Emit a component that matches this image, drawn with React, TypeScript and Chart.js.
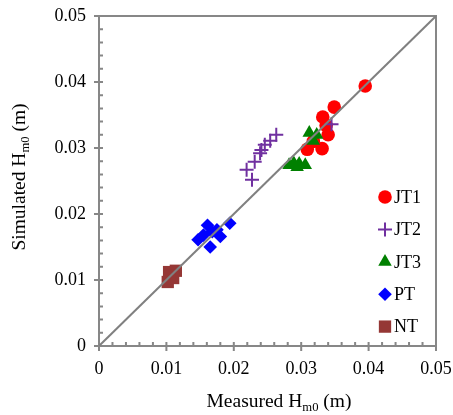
import React, { useEffect, useRef } from 'react';
import { Chart, registerables } from 'chart.js';

Chart.register(...registerables);

// ---- data ----
const seriesNames = ['JT1', 'JT2', 'JT3', 'PT', 'NT'];

const jt1X = [0.0395, 0.0349, 0.0332, 0.0337, 0.0340, 0.0309, 0.0331, 0.0318];
const jt1Y = [0.0394, 0.0362, 0.0347, 0.0334, 0.0320, 0.0298, 0.0299, 0.0310];

const jt2X = [0.0263, 0.0254, 0.0246, 0.0241, 0.0239, 0.0231, 0.0219, 0.0227, 0.0345];
const jt2Y = [0.0320, 0.0311, 0.0305, 0.0297, 0.0292, 0.0279, 0.0267, 0.0252, 0.0336];

const jt3X = [0.0312, 0.0323, 0.0318, 0.0282, 0.0289, 0.0297, 0.0306, 0.0294];
const jt3Y = [0.0323, 0.0320, 0.0311, 0.0274, 0.0277, 0.0276, 0.0274, 0.0271];

const ptX = [0.0161, 0.0175, 0.0155, 0.0147, 0.0165, 0.0180, 0.0194, 0.0168];
const ptY = [0.0183, 0.0176, 0.0168, 0.0161, 0.0150, 0.0166, 0.0186, 0.0173];

const ntX = [0.0104, 0.0114, 0.0102, 0.0110, 0.0105];
const ntY = [0.0112, 0.0114, 0.0097, 0.0103, 0.0106];

const lineX = [0, 0.05];
const lineY = [0, 0.05];

const axisMin = 0;
const axisMax = 0.05;
const majorStep = 0.01;
const minorStep = 0.002;

const xTitle = ['Measured H', 'm0', ' (m)'];
const yTitle = ['Simulated H', 'm0', ' (m)'];

// ---- styles ----
const FONT = '"Liberation Serif", "Times New Roman", serif';
const AXIS_COLOR = '#878787';

type Style = { pointStyle: string; color: string; radius: number; borderWidth: number };
const styles: Style[] = [
  { pointStyle: 'circle', color: '#FF0000', radius: 6.8, borderWidth: 0 },
  { pointStyle: 'cross', color: '#7030A0', radius: 7, borderWidth: 2 },
  { pointStyle: 'triangle', color: '#008000', radius: 7.8, borderWidth: 0 },
  { pointStyle: 'rectRot', color: '#0000FF', radius: 6.8, borderWidth: 0 },
  { pointStyle: 'rect', color: '#953735', radius: 8.7, borderWidth: 0 },
];

const seriesX = [jt1X, jt2X, jt3X, ptX, ntX];
const seriesY = [jt1Y, jt2Y, jt3Y, ptY, ntY];

function drawMarker(ctx: CanvasRenderingContext2D, s: Style, x: number, y: number) {
  const r = s.radius;
  ctx.save();
  ctx.fillStyle = s.color;
  ctx.strokeStyle = s.color;
  ctx.lineWidth = s.borderWidth || 1;
  ctx.beginPath();
  if (s.pointStyle === 'circle') {
    ctx.arc(x, y, r, 0, Math.PI * 2);
    ctx.fill();
  } else if (s.pointStyle === 'cross') {
    ctx.moveTo(x, y - r);
    ctx.lineTo(x, y + r);
    ctx.moveTo(x - r, y);
    ctx.lineTo(x + r, y);
    ctx.stroke();
  } else if (s.pointStyle === 'triangle') {
    ctx.moveTo(x, y - r);
    ctx.lineTo(x + 0.866 * r, y + 0.5 * r);
    ctx.lineTo(x - 0.866 * r, y + 0.5 * r);
    ctx.closePath();
    ctx.fill();
  } else if (s.pointStyle === 'rectRot') {
    ctx.moveTo(x - r, y);
    ctx.lineTo(x, y - r);
    ctx.lineTo(x + r, y);
    ctx.lineTo(x, y + r);
    ctx.closePath();
    ctx.fill();
  } else {
    const h = Math.SQRT1_2 * r;
    ctx.rect(x - h, y - h, 2 * h, 2 * h);
    ctx.fill();
  }
  ctx.restore();
}

function drawTitle(ctx: CanvasRenderingContext2D, parts: string[], size: number) {
  const subSize = size * 0.65;
  ctx.font = `${size}px ${FONT}`;
  const w1 = ctx.measureText(parts[0]).width;
  const w3 = ctx.measureText(parts[2]).width;
  ctx.font = `${subSize}px ${FONT}`;
  const w2 = ctx.measureText(parts[1]).width;
  const total = w1 + w2 + w3;
  let x = -total / 2;
  ctx.fillStyle = '#000';
  ctx.textBaseline = 'alphabetic';
  ctx.textAlign = 'left';
  ctx.font = `${size}px ${FONT}`;
  ctx.fillText(parts[0], x, 0);
  x += w1;
  ctx.font = `${subSize}px ${FONT}`;
  ctx.fillText(parts[1], x, 4);
  x += w2;
  ctx.font = `${size}px ${FONT}`;
  ctx.fillText(parts[2], x, 0);
}

const framePlugin = {
  id: 'frame',
  beforeDatasetsDraw(chart: any) {
    const { ctx, chartArea } = chart;
    const xs = chart.scales.x;
    const ys = chart.scales.y;
    const { left, right, top, bottom } = chartArea;
    ctx.save();
    ctx.strokeStyle = AXIS_COLOR;
    ctx.lineWidth = 2;
    ctx.strokeRect(left, top, right - left, bottom - top);
    const n = Math.round((axisMax - axisMin) / minorStep);
    const per = Math.round(majorStep / minorStep);
    ctx.beginPath();
    for (let i = 0; i <= n; i++) {
      const v = axisMin + i * minorStep;
      const major = i % per === 0;
      const px = xs.getPixelForValue(v);
      ctx.moveTo(px, bottom - 4);
      ctx.lineTo(px, bottom + (major ? 5 : 0));
      const py = ys.getPixelForValue(v);
      ctx.moveTo(left - (major ? 5 : 0), py);
      ctx.lineTo(left + 4, py);
    }
    ctx.stroke();
    ctx.restore();
  },
  afterDraw(chart: any) {
    const { ctx, chartArea } = chart;
    ctx.save();
    // legend
    seriesNames.forEach((name, i) => {
      const y = 197 + i * 32.4;
      drawMarker(ctx, styles[i], 385, y);
      ctx.fillStyle = '#000';
      ctx.font = `18px ${FONT}`;
      ctx.textBaseline = 'middle';
      ctx.textAlign = 'left';
      ctx.fillText(name, 394, y + 1);
    });
    // x title
    ctx.save();
    ctx.translate(279, 407);
    drawTitle(ctx, xTitle, 19.5);
    ctx.restore();
    // y title
    ctx.save();
    ctx.translate(25, (chartArea.top + chartArea.bottom) / 2 - 4);
    ctx.rotate(-Math.PI / 2);
    drawTitle(ctx, yTitle, 19.5);
    ctx.restore();
    ctx.restore();
  },
};

const zeroPad = (s: any) => {
  s.paddingLeft = 0;
  s.paddingRight = 0;
  s.paddingTop = 0;
  s.paddingBottom = 0;
};

export default function App() {
  const ref = useRef<HTMLCanvasElement | null>(null);

  useEffect(() => {
    document.body.style.margin = '0';
    const canvas = ref.current!;
    const datasets: any[] = seriesNames.map((name, i) => ({
      label: name,
      data: seriesX[i].map((x, j) => ({ x, y: seriesY[i][j] })),
      pointStyle: styles[i].pointStyle,
      pointRadius: styles[i].radius,
      pointBackgroundColor: styles[i].color,
      pointBorderColor: styles[i].color,
      pointBorderWidth: styles[i].borderWidth,
      showLine: false,
      order: seriesNames.length - i,
    }));
    datasets.push({
      label: 'line',
      data: lineX.map((x, j) => ({ x, y: lineY[j] })),
      showLine: true,
      borderColor: '#808080',
      borderWidth: 2,
      pointRadius: 0,
      order: 0,
    });

    const tickFont = { family: FONT, size: 18 };
    const fmt = (v: any) => (Math.abs(v) < 1e-9 ? '0' : Number(v).toFixed(2));

    const chart = new Chart(canvas, {
      type: 'scatter',
      data: { datasets },
      options: {
        animation: false,
        responsive: false,
        devicePixelRatio: 1,
        layout: { padding: { left: 0, right: 17, top: 16, bottom: 0 } },
        plugins: { legend: { display: false }, tooltip: { enabled: false } },
        scales: {
          x: {
            type: 'linear',
            min: axisMin,
            max: axisMax,
            grid: { display: false, drawTicks: false },
            border: { display: false },
            ticks: { stepSize: majorStep, font: tickFont, color: '#000', padding: 12, callback: fmt, maxRotation: 0 },
            afterFit: (s: any) => { s.height = 69; zeroPad(s); },
          },
          y: {
            type: 'linear',
            min: axisMin,
            max: axisMax,
            grid: { display: false, drawTicks: false },
            border: { display: false },
            ticks: { stepSize: majorStep, font: tickFont, color: '#000', padding: 13, callback: fmt },
            afterFit: (s: any) => { s.width = 99; zeroPad(s); },
          },
        },
      } as any,
      plugins: [framePlugin],
    });
    return () => chart.destroy();
  }, []);

  return (
    <div style={{ position: 'absolute', left: 0, top: 0, width: 453, height: 415, background: '#fff' }}>
      <canvas ref={ref} width={453} height={415} style={{ width: 453, height: 415 }} />
    </div>
  );
}
